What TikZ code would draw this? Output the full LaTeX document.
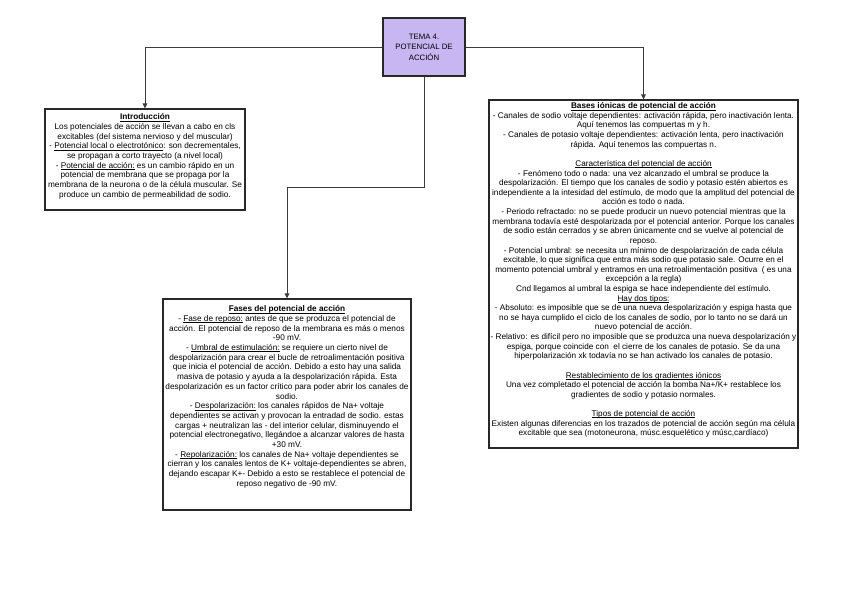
\documentclass[tikz,border=0pt]{standalone}
\usepackage{fontspec}
\setmainfont{Liberation Sans}
\usetikzlibrary{arrows.meta}
\definecolor{lav}{RGB}{199,182,242}
\definecolor{edge}{RGB}{40,40,40}
\definecolor{wire}{RGB}{60,60,60}
\newsavebox{\undlbox}
\newcommand{\undl}[1]{\sbox{\undlbox}{#1}\rlap{\rule[-1.4pt]{\wd\undlbox}{0.55pt}}\usebox{\undlbox}}
\tikzset{
  boxshape/.style={draw=edge, line width=1.1pt, fill=white, rectangle, inner sep=0pt},
  titleshape/.style={draw=edge, line width=1.3pt, fill=lav, rectangle, inner sep=0pt, align=center,
     font=\fontsize{7.8}{10.5}\selectfont},
  boxtext/.style={anchor=north, align=center, inner sep=0pt, font=\fontsize{8.25}{9.7}\selectfont},
  conn/.style={draw=wire, line width=1pt, -{Triangle[length=5pt,width=4.5pt]}},
}
\begin{document}
\begin{tikzpicture}[x=1pt,y=-1pt]
\useasboundingbox[fill=white] (0,0) rectangle (848,600);

\node[titleshape, minimum width=82pt, minimum height=58pt] (title) at (424,47)
  {TEMA 4.\\POTENCIAL DE\\ACCIÓN};

\node[boxshape, minimum width=200pt, minimum height=101pt] (intro) at (145,159.5) {};
\node[boxtext] (introtext) at (145,113.5) {\textbf{\undl{Introducción}}\\
Los potenciales de acción se llevan a cabo en cls\\
excitables (del sistema nervioso y del muscular)\\
- \undl{Potencial local o electrotónico}: son decrementales,\\
se propagan a corto trayecto (a nivel local)\\
- \undl{Potencial de acción:} es un cambio rápido en un\\
potencial de membrana que se propaga por la\\
membrana de la neurona o de la célula muscular. Se\\
produce un cambio de permeabilidad de sodio.};

\node[boxshape, minimum width=248pt, minimum height=211pt] (fases) at (287,404.5) {};
\node[boxtext] (fasestext) at (287,305.5) {\textbf{\undl{Fases del potencial de acción}}\\
- \undl{Fase de reposo:} antes de que se produzca el potencial de\\
acción. El potencial de reposo de la membrana es más o menos\\
-90 mV.\\
- \undl{Umbral de estimulación:} se requiere un cierto nivel de\\
despolarización para crear el bucle de retroalimentación positiva\\
que inicia el potencial de acción. Debido a esto hay una salida\\
masiva de potasio y ayuda a la despolarización rápida. Esta\\
despolarización es un factor crítico para poder abrir los canales de\\
sodio.\\
- \undl{Despolarización:} los canales rápidos de Na+ voltaje\\
dependientes se activan y provocan la entradad de sodio. estas\\
cargas + neutralizan las - del interior celular, disminuyendo el\\
potencial electronegativo, llegándoe a alcanzar valores de hasta\\
+30 mV.\\
- \undl{Repolarización:} los canales de Na+ voltaje dependientes se\\
cierran y los canales lentos de K+ voltaje-dependientes se abren,\\
dejando escapar K+- Debido a esto se restablece el potencial de\\
reposo negativo de -90 mV.};

\node[boxshape, minimum width=309pt, minimum height=348pt] (bases) at (643.5,274) {};
\node[boxtext, font=\fontsize{8.2}{9.62}\selectfont] (basestext) at (643.5,102.5) {\textbf{\undl{Bases iónicas de potencial de acción}}\\
- Canales de sodio voltaje dependientes: activación rápida, pero inactivación lenta.\\
Aquí tenemos las compuertas m y h.\\
- Canales de potasio voltaje dependientes: activación lenta, pero inactivación\\
rápida. Aquí tenemos las compuertas n.\\
\mbox{}\\
\undl{Característica del potencial de acción}\\
- Fenómeno todo o nada: una vez alcanzado el umbral se produce la\\
despolarización. El tiempo que los canales de sodio y potasio estén abiertos es\\
independiente a la intesidad del estímulo, de modo que la amplitud del potencial de\\
acción es todo o nada.\\
- Periodo refractado: no se puede producir un nuevo potencial mientras que la\\
membrana todavía esté despolarizada por el potencial anterior. Porque los canales\\
de sodio están cerrados y se abren únicamente cnd se vuelve al potencial de\\
reposo.\\
- Potencial umbral: se necesita un mínimo de despolarización de cada célula\\
excitable, lo que significa que entra más sodio que potasio sale. Ocurre en el\\
momento potencial umbral y entramos en una retroalimentación positiva ~( es una\\
excepción a la regla)\\
Cnd llegamos al umbral la espiga se hace independiente del estímulo.\\
\undl{Hay dos tipos:}\\
- Absoluto: es imposible que se de una nueva despolarización y espiga hasta que\\
no se haya cumplido el ciclo de los canales de sodio, por lo tanto no se dará un\\
nuevo potencial de acción.\\
- Relativo: es difícil pero no imposible que se produzca una nueva despolarización y\\
espiga, porque coincide con ~el cierre de los canales de potasio. Se da una\\
hiperpolarización xk todavía no se han activado los canales de potasio.\\
\mbox{}\\
\undl{Restablecimiento de los gradientes iónicos}\\
Una vez completado el potencial de acción la bomba Na+/K+ restablece los\\
gradientes de sodio y potasio normales.\\
\mbox{}\\
\undl{Tipos de potencial de acción}\\
Existen algunas diferencias en los trazados de potencial de acción según ma célula\\
excitable que sea (motoneurona, músc.esquelético y músc,cardíaco)};

\draw[conn] (title.west) -| (intro.north);
\draw[conn] (title.east) -| (bases.north);
\draw[conn] (title.south) -- ++(0,111) -| (fases.north);
\end{tikzpicture}
\end{document}
